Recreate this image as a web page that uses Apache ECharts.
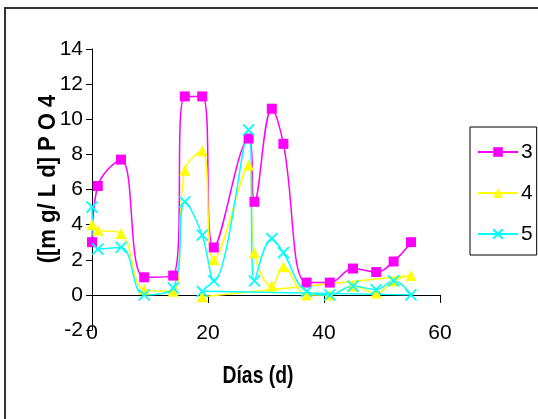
<!DOCTYPE html>
<html>
<head>
<meta charset="utf-8">
<script src="https://cdn.jsdelivr.net/npm/echarts@6/dist/echarts.min.js"></script>
<style>
html,body{margin:0;padding:0;background:#fff;}
#c{width:538px;height:419px;}
</style>
</head>
<body>
<div id="c"></div>
<script>
const days3 = [0, 1, 5, 9, 14, 16, 19, 21, 27, 28, 31, 33, 37, 41, 45, 49, 52, 55];
const vals3 = [3.0, 6.2, 7.7, 1.0, 1.1, 11.3, 11.3, 2.7, 8.9, 5.3, 10.6, 8.6, 0.7, 0.7, 1.5, 1.3, 1.9, 3.0];
const days4 = [0, 1, 5, 9, 14, 16, 19, 21, 27, 28, 31, 33, 37, 41, 45, 49, 52, 55, 19];
const vals4 = [4.0, 3.7, 3.5, 0.3, 0.2, 7.1, 8.2, 2.0, 7.4, 2.4, 0.5, 1.6, 0.0, 0.0, 0.5, 0.1, 0.8, 1.1, -0.1];
const days5 = [0, 1, 5, 9, 14, 16, 19, 21, 27, 28, 31, 33, 37, 41, 45, 49, 52, 55, 19];
const vals5 = [5.0, 2.6, 2.7, 0.0, 0.4, 5.3, 3.4, 0.8, 9.4, 0.8, 3.2, 2.4, 0.2, 0.0, 0.5, 0.3, 0.8, 0.0, 0.2];
const seriesNames = ['3', '4', '5'];
const xTicks = [0, 20, 40, 60];
const yTicks = [-2, 0, 2, 4, 6, 8, 10, 12, 14];
const xTitle = 'Días (d)';
const yTitle = '([m g/ L d] P O 4';

const FONT = '"Liberation Sans", Arial, sans-serif';
const pair = (xs, ys) => xs.map((x, i) => [x, ys[i]]);
const xSym = 'path://M0,0L10,10M10,0L0,10';

const chart = echarts.init(document.getElementById('c'), null, {renderer: 'canvas'});
chart.setOption({
  animation: false,
  backgroundColor: '#fff',
  grid: {left: 92, right: 98, top: 49, bottom: 89, containLabel: false},
  xAxis: [{
    type: 'value', min: xTicks[0], max: xTicks[xTicks.length - 1], interval: 20,
    axisLine: {show: true, onZero: true, lineStyle: {color: '#000', width: 1}},
    axisTick: {show: true, length: 8, inside: false, lineStyle: {color: '#000'}},
    axisLabel: {show: false},
    splitLine: {show: false}
  }, {
    type: 'value', min: xTicks[0], max: xTicks[xTicks.length - 1], interval: 20,
    position: 'bottom', offset: -7,
    axisLine: {show: false, onZero: false},
    axisTick: {show: false},
    axisLabel: {show: true, margin: 0, color: '#000', fontFamily: FONT, fontSize: 21},
    splitLine: {show: false}
  }],
  yAxis: {
    type: 'value', min: yTicks[0], max: yTicks[yTicks.length - 1], interval: 2,
    axisLine: {show: true, onZero: false, lineStyle: {color: '#000', width: 1}},
    axisTick: {show: true, length: 6, lineStyle: {color: '#000'}},
    axisLabel: {show: true, margin: 9, color: '#000', fontFamily: FONT, fontSize: 21},
    splitLine: {show: false}
  },
  legend: {
    left: 470, top: 127, orient: 'vertical',
    borderColor: '#000', borderWidth: 1,
    padding: [12, 4, 8, 7],
    itemWidth: 40, itemHeight: 12, itemGap: 15,
    textStyle: {fontFamily: FONT, fontSize: 21, color: '#000', lineHeight: 26, padding: [0, 0, 0, -2]},
    data: seriesNames
  },
  graphic: [
    {type: 'rect', shape: {x: 5, y: 8, width: 560, height: 440}, style: {fill: 'none', stroke: '#333', lineWidth: 2}, silent: true},
    {type: 'text', x: 48, y: 179, rotation: Math.PI / 2, scaleX: 1.0, scaleY: 1.1,
     style: {text: yTitle, fontFamily: FONT, fontSize: 22, fontWeight: 'bold', fill: '#000', textAlign: 'center', textVerticalAlign: 'middle'}},
    {type: 'text', x: 258, y: 376, scaleX: 0.88, scaleY: 1.1,
     style: {text: xTitle, fontFamily: FONT, fontSize: 22, fontWeight: 'bold', fill: '#000', textAlign: 'center', textVerticalAlign: 'middle'}}
  ],
  series: [{
    name: seriesNames[0], type: 'line', xAxisIndex: 0, smooth: 0.4,
    data: pair(days3, vals3),
    symbol: 'rect', symbolSize: 10,
    lineStyle: {color: '#FF00FF', width: 1.5},
    itemStyle: {color: '#FF00FF'}
  }, {
    name: seriesNames[1], type: 'line', xAxisIndex: 0, smooth: 0.4,
    data: pair(days4, vals4),
    symbol: 'triangle', symbolSize: 11,
    lineStyle: {color: '#FFFF00', width: 1.5},
    itemStyle: {color: '#FFFF00'}
  }, {
    name: seriesNames[2], type: 'line', xAxisIndex: 0, smooth: 0.4,
    data: pair(days5, vals5),
    symbol: xSym, symbolSize: 11,
    lineStyle: {color: '#00FFFF', width: 1.5},
    itemStyle: {color: '#00FFFF', borderColor: '#00FFFF', borderWidth: 1.8}
  }]
});
</script>
</body>
</html>
